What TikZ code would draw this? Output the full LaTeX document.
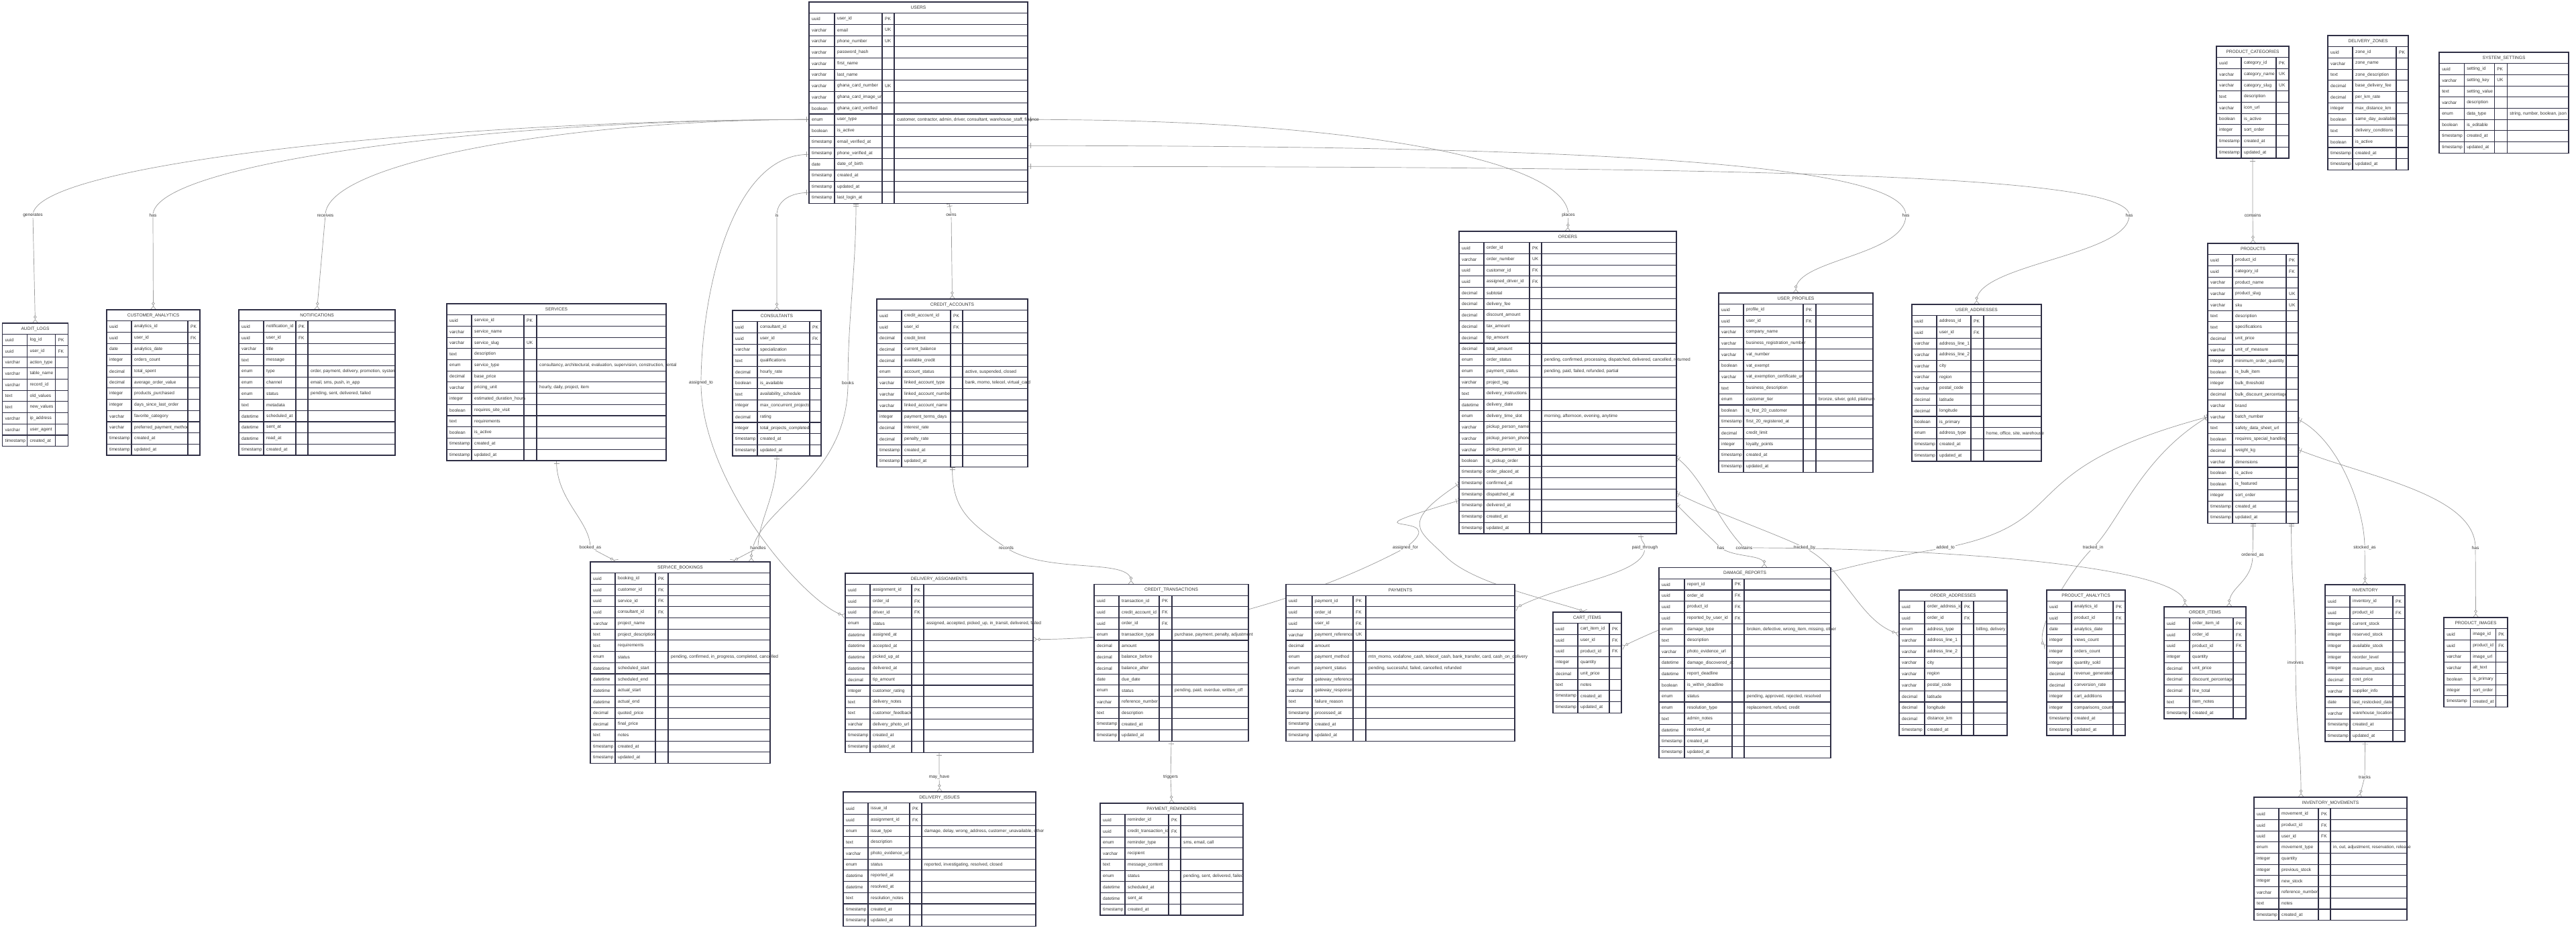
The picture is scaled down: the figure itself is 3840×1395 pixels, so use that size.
\documentclass[tikz,border=0pt]{standalone}
\usepackage{fontspec}
\setmainfont{Liberation Sans}
\usepackage{underscore}
\usetikzlibrary{arrows.meta,backgrounds}
\definecolor{erline}{HTML}{2E2E44}
\definecolor{ertext}{HTML}{333333}
\definecolor{relline}{HTML}{9A9A9A}
\newcommand{\erfont}{\fontsize{6.6}{7.5}\selectfont}
\newcommand{\erh}{16.7}
\newcount\errow
% one attribute row: type, name, key, comment
\newcommand{\erattr}[4]{%
  \pgfmathsetmacro\ert{\ery+(\the\errow+1)*\erh}%
  \pgfmathsetmacro\erxb{\erx+\erwa}%
  \pgfmathsetmacro\erxc{\erxb+\erwb}%
  \pgfmathsetmacro\erxd{\erxc+\erwc}%
  \draw[cellbox] (\erx,\ert) rectangle ++(\erwa,\erh);
  \draw[cellbox] (\erxb,\ert) rectangle ++(\erwb,\erh);
  \draw[cellbox] (\erxc,\ert) rectangle ++(\erwc,\erh);
  \ifdim\erwd pt>0pt \draw[cellbox] (\erxd,\ert) rectangle ++(\erwd,\erh);\fi
  \node[celltext] at (\erx+4,\ert+\erh/2) {#1};
  \node[celltext] at (\erxb+4,\ert+\erh/2) {#2};
  \node[celltext] at (\erxc+4,\ert+\erh/2) {#3};
  \node[celltext] at (\erxd+4,\ert+\erh/2) {#4};
  \global\advance\errow by 1
}
% table: name, x, y, column widths (4), title, rows
\newcommand{\ertable}[9]{%
  \def\erx{#2}\def\ery{#3}\def\erwa{#4}\def\erwb{#5}\def\erwc{#6}\def\erwd{#7}%
  \global\errow=0
  \pgfmathsetmacro\erw{#4+#5+#6+#7}%
  \draw[cellbox] (#2,#3) rectangle ++(\erw,\erh);
  \node[headtext] at (#2+\erw/2,#3+\erh/2) {#8};
  #9%
  \pgfmathsetmacro\erht{(\the\errow+1)*\erh}%
  \node[tablebox,minimum width=\erw,minimum height=\erht,anchor=north west] (#1) at (#2,#3) {};
}

\begin{document}
\begin{tikzpicture}[x=1pt,y=-1pt,font=\erfont,
  cellbox/.style={draw=erline,line width=1.1pt,fill=white},
  celltext/.style={anchor=west,inner sep=0pt,text=ertext},
  headtext/.style={inner sep=0pt,text=ertext},
  tablebox/.style={draw=erline,line width=1.4pt,inner sep=0pt,outer sep=0pt},
  rel/.style={draw=relline,line width=0.7pt},
  onemany/.style={rel,arrows={{Bar[width=8pt]Bar[width=8pt,sep=3pt]}-{Circle[open,length=4.5pt,width=4.5pt,sep=1pt,fill=white]Straight Barb[reversed,length=5pt,width=8pt]}}},
  lbl/.style={fill=white,inner sep=1pt,text=ertext}]
\useasboundingbox (0,0) rectangle (3840,1395);

% rank 0
\ertable{users}{1206}{3}{38}{71}{18}{199}{USERS}{%
  \erattr{uuid}{user_id}{PK}{}
  \erattr{varchar}{email}{UK}{}
  \erattr{varchar}{phone_number}{UK}{}
  \erattr{varchar}{password_hash}{}{}
  \erattr{varchar}{first_name}{}{}
  \erattr{varchar}{last_name}{}{}
  \erattr{varchar}{ghana_card_number}{UK}{}
  \erattr{varchar}{ghana_card_image_url}{}{}
  \erattr{boolean}{ghana_card_verified}{}{}
  \erattr{enum}{user_type}{}{customer, contractor, admin, driver, consultant, warehouse_staff, finance}
  \erattr{boolean}{is_active}{}{}
  \erattr{timestamp}{email_verified_at}{}{}
  \erattr{timestamp}{phone_verified_at}{}{}
  \erattr{date}{date_of_birth}{}{}
  \erattr{timestamp}{created_at}{}{}
  \erattr{timestamp}{updated_at}{}{}
  \erattr{timestamp}{last_login_at}{}{}}
\ertable{prodcats}{3304}{69}{37}{52}{19}{0}{PRODUCT_CATEGORIES}{%
  \erattr{uuid}{category_id}{PK}{}
  \erattr{varchar}{category_name}{UK}{}
  \erattr{varchar}{category_slug}{UK}{}
  \erattr{text}{description}{}{}
  \erattr{varchar}{icon_url}{}{}
  \erattr{boolean}{is_active}{}{}
  \erattr{integer}{sort_order}{}{}
  \erattr{timestamp}{created_at}{}{}
  \erattr{timestamp}{updated_at}{}{}}
\ertable{zones}{3470}{53}{37}{65}{18}{0}{DELIVERY_ZONES}{%
  \erattr{uuid}{zone_id}{PK}{}
  \erattr{varchar}{zone_name}{}{}
  \erattr{text}{zone_description}{}{}
  \erattr{decimal}{base_delivery_fee}{}{}
  \erattr{decimal}{per_km_rate}{}{}
  \erattr{integer}{max_distance_km}{}{}
  \erattr{boolean}{same_day_available}{}{}
  \erattr{text}{delivery_conditions}{}{}
  \erattr{boolean}{is_active}{}{}
  \erattr{timestamp}{created_at}{}{}
  \erattr{timestamp}{updated_at}{}{}}
\ertable{settings}{3636}{78}{37}{45}{19}{92}{SYSTEM_SETTINGS}{%
  \erattr{uuid}{setting_id}{PK}{}
  \erattr{varchar}{setting_key}{UK}{}
  \erattr{text}{setting_value}{}{}
  \erattr{varchar}{description}{}{}
  \erattr{enum}{data_type}{}{string, number, boolean, json}
  \erattr{boolean}{is_editable}{}{}
  \erattr{timestamp}{created_at}{}{}
  \erattr{timestamp}{updated_at}{}{}}

% rank 1
\ertable{auditlogs}{3.5}{482}{37}{42}{19}{0}{AUDIT_LOGS}{%
  \erattr{uuid}{log_id}{PK}{}
  \erattr{uuid}{user_id}{FK}{}
  \erattr{varchar}{action_type}{}{}
  \erattr{varchar}{table_name}{}{}
  \erattr{varchar}{record_id}{}{}
  \erattr{text}{old_values}{}{}
  \erattr{text}{new_values}{}{}
  \erattr{varchar}{ip_address}{}{}
  \erattr{varchar}{user_agent}{}{}
  \erattr{timestamp}{created_at}{}{}}
\ertable{custanalytics}{159}{462}{37}{84}{18}{0}{CUSTOMER_ANALYTICS}{%
  \erattr{uuid}{analytics_id}{PK}{}
  \erattr{uuid}{user_id}{FK}{}
  \erattr{date}{analytics_date}{}{}
  \erattr{integer}{orders_count}{}{}
  \erattr{decimal}{total_spent}{}{}
  \erattr{decimal}{average_order_value}{}{}
  \erattr{integer}{products_purchased}{}{}
  \erattr{integer}{days_since_last_order}{}{}
  \erattr{varchar}{favorite_category}{}{}
  \erattr{varchar}{preferred_payment_method}{}{}
  \erattr{timestamp}{created_at}{}{}
  \erattr{timestamp}{updated_at}{}{}}
\ertable{notifications}{356}{462}{37}{48}{18}{130}{NOTIFICATIONS}{%
  \erattr{uuid}{notification_id}{PK}{}
  \erattr{uuid}{user_id}{FK}{}
  \erattr{varchar}{title}{}{}
  \erattr{text}{message}{}{}
  \erattr{enum}{type}{}{order, payment, delivery, promotion, system}
  \erattr{enum}{channel}{}{email, sms, push, in_app}
  \erattr{enum}{status}{}{pending, sent, delivered, failed}
  \erattr{text}{metadata}{}{}
  \erattr{datetime}{scheduled_at}{}{}
  \erattr{datetime}{sent_at}{}{}
  \erattr{datetime}{read_at}{}{}
  \erattr{timestamp}{created_at}{}{}}
\ertable{services}{666}{453}{37}{78}{19}{193}{SERVICES}{%
  \erattr{uuid}{service_id}{PK}{}
  \erattr{varchar}{service_name}{}{}
  \erattr{varchar}{service_slug}{UK}{}
  \erattr{text}{description}{}{}
  \erattr{enum}{service_type}{}{consultancy, architectural, evaluation, supervision, construction, rental}
  \erattr{decimal}{base_price}{}{}
  \erattr{varchar}{pricing_unit}{}{hourly, daily, project, item}
  \erattr{integer}{estimated_duration_hours}{}{}
  \erattr{boolean}{requires_site_visit}{}{}
  \erattr{text}{requirements}{}{}
  \erattr{boolean}{is_active}{}{}
  \erattr{timestamp}{created_at}{}{}
  \erattr{timestamp}{updated_at}{}{}}
\ertable{consultants}{1092}{463}{37}{78}{17}{0}{CONSULTANTS}{%
  \erattr{uuid}{consultant_id}{PK}{}
  \erattr{uuid}{user_id}{FK}{}
  \erattr{varchar}{specialization}{}{}
  \erattr{text}{qualifications}{}{}
  \erattr{decimal}{hourly_rate}{}{}
  \erattr{boolean}{is_available}{}{}
  \erattr{text}{availability_schedule}{}{}
  \erattr{integer}{max_concurrent_projects}{}{}
  \erattr{decimal}{rating}{}{}
  \erattr{integer}{total_projects_completed}{}{}
  \erattr{timestamp}{created_at}{}{}
  \erattr{timestamp}{updated_at}{}{}}
\ertable{creditaccounts}{1307}{446}{37}{73}{18}{97}{CREDIT_ACCOUNTS}{%
  \erattr{uuid}{credit_account_id}{PK}{}
  \erattr{uuid}{user_id}{FK}{}
  \erattr{decimal}{credit_limit}{}{}
  \erattr{decimal}{current_balance}{}{}
  \erattr{decimal}{available_credit}{}{}
  \erattr{enum}{account_status}{}{active, suspended, closed}
  \erattr{varchar}{linked_account_type}{}{bank, momo, telecel, virtual_card}
  \erattr{varchar}{linked_account_number}{}{}
  \erattr{varchar}{linked_account_name}{}{}
  \erattr{integer}{payment_terms_days}{}{}
  \erattr{decimal}{interest_rate}{}{}
  \erattr{decimal}{penalty_rate}{}{}
  \erattr{timestamp}{created_at}{}{}
  \erattr{timestamp}{updated_at}{}{}}
\ertable{orders}{2175}{345}{37}{68}{18}{201}{ORDERS}{%
  \erattr{uuid}{order_id}{PK}{}
  \erattr{varchar}{order_number}{UK}{}
  \erattr{uuid}{customer_id}{FK}{}
  \erattr{uuid}{assigned_driver_id}{FK}{}
  \erattr{decimal}{subtotal}{}{}
  \erattr{decimal}{delivery_fee}{}{}
  \erattr{decimal}{discount_amount}{}{}
  \erattr{decimal}{tax_amount}{}{}
  \erattr{decimal}{tip_amount}{}{}
  \erattr{decimal}{total_amount}{}{}
  \erattr{enum}{order_status}{}{pending, confirmed, processing, dispatched, delivered, cancelled, returned}
  \erattr{enum}{payment_status}{}{pending, paid, failed, refunded, partial}
  \erattr{varchar}{project_tag}{}{}
  \erattr{text}{delivery_instructions}{}{}
  \erattr{datetime}{delivery_date}{}{}
  \erattr{enum}{delivery_time_slot}{}{morning, afternoon, evening, anytime}
  \erattr{varchar}{pickup_person_name}{}{}
  \erattr{varchar}{pickup_person_phone}{}{}
  \erattr{varchar}{pickup_person_id}{}{}
  \erattr{boolean}{is_pickup_order}{}{}
  \erattr{timestamp}{order_placed_at}{}{}
  \erattr{timestamp}{confirmed_at}{}{}
  \erattr{timestamp}{dispatched_at}{}{}
  \erattr{timestamp}{delivered_at}{}{}
  \erattr{timestamp}{created_at}{}{}
  \erattr{timestamp}{updated_at}{}{}}
\ertable{userprofiles}{2562}{437}{37}{89}{19}{85}{USER_PROFILES}{%
  \erattr{uuid}{profile_id}{PK}{}
  \erattr{uuid}{user_id}{FK}{}
  \erattr{varchar}{company_name}{}{}
  \erattr{varchar}{business_registration_number}{}{}
  \erattr{varchar}{vat_number}{}{}
  \erattr{boolean}{vat_exempt}{}{}
  \erattr{varchar}{vat_exemption_certificate_url}{}{}
  \erattr{text}{business_description}{}{}
  \erattr{enum}{customer_tier}{}{bronze, silver, gold, platinum}
  \erattr{boolean}{is_first_20_customer}{}{}
  \erattr{timestamp}{first_20_registered_at}{}{}
  \erattr{decimal}{credit_limit}{}{}
  \erattr{integer}{loyalty_points}{}{}
  \erattr{timestamp}{created_at}{}{}
  \erattr{timestamp}{updated_at}{}{}}
\ertable{useraddresses}{2850}{454}{37}{51}{19}{86}{USER_ADDRESSES}{%
  \erattr{uuid}{address_id}{PK}{}
  \erattr{uuid}{user_id}{FK}{}
  \erattr{varchar}{address_line_1}{}{}
  \erattr{varchar}{address_line_2}{}{}
  \erattr{varchar}{city}{}{}
  \erattr{varchar}{region}{}{}
  \erattr{varchar}{postal_code}{}{}
  \erattr{decimal}{latitude}{}{}
  \erattr{decimal}{longitude}{}{}
  \erattr{boolean}{is_primary}{}{}
  \erattr{enum}{address_type}{}{home, office, site, warehouse}
  \erattr{timestamp}{created_at}{}{}
  \erattr{timestamp}{updated_at}{}{}}
\ertable{products}{3291}{363}{37}{80}{18}{0}{PRODUCTS}{%
  \erattr{uuid}{product_id}{PK}{}
  \erattr{uuid}{category_id}{FK}{}
  \erattr{varchar}{product_name}{}{}
  \erattr{varchar}{product_slug}{UK}{}
  \erattr{varchar}{sku}{UK}{}
  \erattr{text}{description}{}{}
  \erattr{text}{specifications}{}{}
  \erattr{decimal}{unit_price}{}{}
  \erattr{varchar}{unit_of_measure}{}{}
  \erattr{integer}{minimum_order_quantity}{}{}
  \erattr{boolean}{is_bulk_item}{}{}
  \erattr{integer}{bulk_threshold}{}{}
  \erattr{decimal}{bulk_discount_percentage}{}{}
  \erattr{varchar}{brand}{}{}
  \erattr{varchar}{batch_number}{}{}
  \erattr{text}{safety_data_sheet_url}{}{}
  \erattr{boolean}{requires_special_handling}{}{}
  \erattr{decimal}{weight_kg}{}{}
  \erattr{varchar}{dimensions}{}{}
  \erattr{boolean}{is_active}{}{}
  \erattr{boolean}{is_featured}{}{}
  \erattr{integer}{sort_order}{}{}
  \erattr{timestamp}{created_at}{}{}
  \erattr{timestamp}{updated_at}{}{}}

% rank 2
\ertable{bookings}{880}{838}{37}{60}{19}{152}{SERVICE_BOOKINGS}{%
  \erattr{uuid}{booking_id}{PK}{}
  \erattr{uuid}{customer_id}{FK}{}
  \erattr{uuid}{service_id}{FK}{}
  \erattr{uuid}{consultant_id}{FK}{}
  \erattr{varchar}{project_name}{}{}
  \erattr{text}{project_description}{}{}
  \erattr{text}{requirements}{}{}
  \erattr{enum}{status}{}{pending, confirmed, in_progress, completed, cancelled}
  \erattr{datetime}{scheduled_start}{}{}
  \erattr{datetime}{scheduled_end}{}{}
  \erattr{datetime}{actual_start}{}{}
  \erattr{datetime}{actual_end}{}{}
  \erattr{decimal}{quoted_price}{}{}
  \erattr{decimal}{final_price}{}{}
  \erattr{text}{notes}{}{}
  \erattr{timestamp}{created_at}{}{}
  \erattr{timestamp}{updated_at}{}{}}
\ertable{assignments}{1260}{855}{37}{62}{18}{163}{DELIVERY_ASSIGNMENTS}{%
  \erattr{uuid}{assignment_id}{PK}{}
  \erattr{uuid}{order_id}{FK}{}
  \erattr{uuid}{driver_id}{FK}{}
  \erattr{enum}{status}{}{assigned, accepted, picked_up, in_transit, delivered, failed}
  \erattr{datetime}{assigned_at}{}{}
  \erattr{datetime}{accepted_at}{}{}
  \erattr{datetime}{picked_up_at}{}{}
  \erattr{datetime}{delivered_at}{}{}
  \erattr{decimal}{tip_amount}{}{}
  \erattr{integer}{customer_rating}{}{}
  \erattr{text}{delivery_notes}{}{}
  \erattr{text}{customer_feedback}{}{}
  \erattr{varchar}{delivery_photo_url}{}{}
  \erattr{timestamp}{created_at}{}{}
  \erattr{timestamp}{updated_at}{}{}}
\ertable{credittrans}{1631}{871.5}{37}{60}{19}{114}{CREDIT_TRANSACTIONS}{%
  \erattr{uuid}{transaction_id}{PK}{}
  \erattr{uuid}{credit_account_id}{FK}{}
  \erattr{uuid}{order_id}{FK}{}
  \erattr{enum}{transaction_type}{}{purchase, payment, penalty, adjustment}
  \erattr{decimal}{amount}{}{}
  \erattr{decimal}{balance_before}{}{}
  \erattr{decimal}{balance_after}{}{}
  \erattr{date}{due_date}{}{}
  \erattr{enum}{status}{}{pending, paid, overdue, written_off}
  \erattr{varchar}{reference_number}{}{}
  \erattr{text}{description}{}{}
  \erattr{timestamp}{created_at}{}{}
  \erattr{timestamp}{updated_at}{}{}}
\ertable{payments}{1917}{871.5}{39}{61}{19}{222}{PAYMENTS}{%
  \erattr{uuid}{payment_id}{PK}{}
  \erattr{uuid}{order_id}{FK}{}
  \erattr{uuid}{user_id}{FK}{}
  \erattr{varchar}{payment_reference}{UK}{}
  \erattr{decimal}{amount}{}{}
  \erattr{enum}{payment_method}{}{mtn_momo, vodafone_cash, telecel_cash, bank_transfer, card, cash_on_delivery}
  \erattr{enum}{payment_status}{}{pending, successful, failed, cancelled, refunded}
  \erattr{varchar}{gateway_reference}{}{}
  \erattr{varchar}{gateway_response}{}{}
  \erattr{text}{failure_reason}{}{}
  \erattr{timestamp}{processed_at}{}{}
  \erattr{timestamp}{created_at}{}{}
  \erattr{timestamp}{updated_at}{}{}}
\ertable{cartitems}{2315}{913}{37}{47}{18}{0}{CART_ITEMS}{%
  \erattr{uuid}{cart_item_id}{PK}{}
  \erattr{uuid}{user_id}{FK}{}
  \erattr{uuid}{product_id}{FK}{}
  \erattr{integer}{quantity}{}{}
  \erattr{decimal}{unit_price}{}{}
  \erattr{text}{notes}{}{}
  \erattr{timestamp}{created_at}{}{}
  \erattr{timestamp}{updated_at}{}{}}
\ertable{damagereports}{2473}{846.6}{38}{71}{18}{129}{DAMAGE_REPORTS}{%
  \erattr{uuid}{report_id}{PK}{}
  \erattr{uuid}{order_id}{FK}{}
  \erattr{uuid}{product_id}{FK}{}
  \erattr{uuid}{reported_by_user_id}{FK}{}
  \erattr{enum}{damage_type}{}{broken, defective, wrong_item, missing, other}
  \erattr{text}{description}{}{}
  \erattr{varchar}{photo_evidence_url}{}{}
  \erattr{datetime}{damage_discovered_at}{}{}
  \erattr{datetime}{report_deadline}{}{}
  \erattr{boolean}{is_within_deadline}{}{}
  \erattr{enum}{status}{}{pending, approved, rejected, resolved}
  \erattr{enum}{resolution_type}{}{replacement, refund, credit}
  \erattr{text}{admin_notes}{}{}
  \erattr{datetime}{resolved_at}{}{}
  \erattr{timestamp}{created_at}{}{}
  \erattr{timestamp}{updated_at}{}{}}
\ertable{orderaddresses}{2831}{880}{38}{55}{18}{50}{ORDER_ADDRESSES}{%
  \erattr{uuid}{order_address_id}{PK}{}
  \erattr{uuid}{order_id}{FK}{}
  \erattr{enum}{address_type}{}{billing, delivery}
  \erattr{varchar}{address_line_1}{}{}
  \erattr{varchar}{address_line_2}{}{}
  \erattr{varchar}{city}{}{}
  \erattr{varchar}{region}{}{}
  \erattr{varchar}{postal_code}{}{}
  \erattr{decimal}{latitude}{}{}
  \erattr{decimal}{longitude}{}{}
  \erattr{decimal}{distance_km}{}{}
  \erattr{timestamp}{created_at}{}{}}
\ertable{prodanalytics}{3051}{880}{37}{62}{18}{0}{PRODUCT_ANALYTICS}{%
  \erattr{uuid}{analytics_id}{PK}{}
  \erattr{uuid}{product_id}{FK}{}
  \erattr{date}{analytics_date}{}{}
  \erattr{integer}{views_count}{}{}
  \erattr{integer}{orders_count}{}{}
  \erattr{integer}{quantity_sold}{}{}
  \erattr{decimal}{revenue_generated}{}{}
  \erattr{decimal}{conversion_rate}{}{}
  \erattr{integer}{cart_additions}{}{}
  \erattr{integer}{comparisons_count}{}{}
  \erattr{timestamp}{created_at}{}{}
  \erattr{timestamp}{updated_at}{}{}}
\ertable{orderitems}{3226}{905}{38}{65}{19}{0}{ORDER_ITEMS}{%
  \erattr{uuid}{order_item_id}{PK}{}
  \erattr{uuid}{order_id}{FK}{}
  \erattr{uuid}{product_id}{FK}{}
  \erattr{integer}{quantity}{}{}
  \erattr{decimal}{unit_price}{}{}
  \erattr{decimal}{discount_percentage}{}{}
  \erattr{decimal}{line_total}{}{}
  \erattr{text}{item_notes}{}{}
  \erattr{timestamp}{created_at}{}{}}
\ertable{inventory}{3466}{872}{37}{64}{18}{0}{INVENTORY}{%
  \erattr{uuid}{inventory_id}{PK}{}
  \erattr{uuid}{product_id}{FK}{}
  \erattr{integer}{current_stock}{}{}
  \erattr{integer}{reserved_stock}{}{}
  \erattr{integer}{available_stock}{}{}
  \erattr{integer}{reorder_level}{}{}
  \erattr{integer}{maximum_stock}{}{}
  \erattr{decimal}{cost_price}{}{}
  \erattr{varchar}{supplier_info}{}{}
  \erattr{date}{last_restocked_date}{}{}
  \erattr{varchar}{warehouse_location}{}{}
  \erattr{timestamp}{created_at}{}{}
  \erattr{timestamp}{updated_at}{}{}}
\ertable{prodimages}{3643}{921}{39}{38}{18}{0}{PRODUCT_IMAGES}{%
  \erattr{uuid}{image_id}{PK}{}
  \erattr{uuid}{product_id}{FK}{}
  \erattr{varchar}{image_url}{}{}
  \erattr{varchar}{alt_text}{}{}
  \erattr{boolean}{is_primary}{}{}
  \erattr{integer}{sort_order}{}{}
  \erattr{timestamp}{created_at}{}{}}

% rank 3
\ertable{issues}{1257}{1181}{37}{62}{18}{170}{DELIVERY_ISSUES}{%
  \erattr{uuid}{issue_id}{PK}{}
  \erattr{uuid}{assignment_id}{FK}{}
  \erattr{enum}{issue_type}{}{damage, delay, wrong_address, customer_unavailable, other}
  \erattr{text}{description}{}{}
  \erattr{varchar}{photo_evidence_url}{}{}
  \erattr{enum}{status}{}{reported, investigating, resolved, closed}
  \erattr{datetime}{reported_at}{}{}
  \erattr{datetime}{resolved_at}{}{}
  \erattr{text}{resolution_notes}{}{}
  \erattr{timestamp}{created_at}{}{}
  \erattr{timestamp}{updated_at}{}{}}
\ertable{reminders}{1640}{1198}{37}{65}{18}{93}{PAYMENT_REMINDERS}{%
  \erattr{uuid}{reminder_id}{PK}{}
  \erattr{uuid}{credit_transaction_id}{FK}{}
  \erattr{enum}{reminder_type}{}{sms, email, call}
  \erattr{varchar}{recipient}{}{}
  \erattr{text}{message_content}{}{}
  \erattr{enum}{status}{}{pending, sent, delivered, failed}
  \erattr{datetime}{scheduled_at}{}{}
  \erattr{datetime}{sent_at}{}{}
  \erattr{timestamp}{created_at}{}{}}
\ertable{movements}{3360}{1189}{37}{59}{18}{114}{INVENTORY_MOVEMENTS}{%
  \erattr{uuid}{movement_id}{PK}{}
  \erattr{uuid}{product_id}{FK}{}
  \erattr{uuid}{user_id}{FK}{}
  \erattr{enum}{movement_type}{}{in, out, adjustment, reservation, release}
  \erattr{integer}{quantity}{}{}
  \erattr{integer}{previous_stock}{}{}
  \erattr{integer}{new_stock}{}{}
  \erattr{varchar}{reference_number}{}{}
  \erattr{text}{notes}{}{}
  \erattr{timestamp}{created_at}{}{}}

% relationships
\begin{scope}[on background layer]
\fill[white] (0,0) rectangle (3840,1395);
\draw[onemany] ([yshift=-25pt]users.west) .. controls +(-500,0) and +(0,-80) .. (49,321) node[lbl]{generates} -- (auditlogs.north);
\draw[onemany] ([yshift=-25pt]users.west) .. controls +(-450,0) and +(0,-80) .. (228,321) node[lbl]{has} -- (custanalytics.north);
\draw[onemany] ([yshift=-25pt]users.west) .. controls +(-350,0) and +(0,-80) .. (485,321) node[lbl]{receives} -- (notifications.north);
\draw[onemany] ([yshift=-134pt]users.west) .. controls +(-30,0) and +(0,-20) .. (1158,321) node[lbl]{is} -- (consultants.north);
\draw[onemany] ([xshift=46pt]users.south) -- (1418,321) node[lbl]{owns} -- (creditaccounts.north);
\draw[onemany] ([yshift=-25pt]users.east) .. controls +(500,0) and +(0,-80) .. (2338,321) node[lbl]{places} -- (orders.north);
\draw[onemany] ([yshift=-64pt]users.east) .. controls +(800,0) and +(0,-80) .. (2841,321) node[lbl]{has} .. controls +(0,60) and +(0,-50) .. (userprofiles.north);
\draw[onemany] ([yshift=-95pt]users.east) .. controls +(1100,0) and +(0,-60) .. (3174,321) node[lbl]{has} .. controls +(0,60) and +(0,-60) .. (useraddresses.north);
\draw[onemany] (prodcats.south) -- (3358,321) node[lbl]{contains} -- (products.north);
\draw[onemany] ([yshift=-77pt]users.west) .. controls +(-120,0) and +(0,-120) .. (1045,571) node[lbl]{assigned_to} .. controls +(0,150) and +(-60,-20) .. ([yshift=70pt]assignments.west);
\draw[onemany] ([xshift=-93pt]users.south) .. controls +(0,100) and +(0,-100) .. (1264,571) node[lbl]{books} .. controls +(0,150) and +(0,-80) .. ([xshift=106pt]bookings.north);
\draw[onemany] (services.south) .. controls +(0,60) and +(0,-40) .. (880,817) node[lbl]{booked_as} -- ([xshift=-94pt]bookings.north);
\draw[onemany] (consultants.south) .. controls +(0,60) and +(0,-40) .. (1130,817) node[lbl]{handles} -- ([xshift=76pt]bookings.north);
\draw[onemany] (creditaccounts.south) .. controls +(0,60) and +(-60,-40) .. (1500,817) node[lbl]{records} .. controls +(60,40) and +(0,-40) .. ([xshift=-60pt]credittrans.north);
\draw[onemany] (credittrans.south) -- (1745,1159) node[lbl]{triggers} -- (reminders.north);
\draw[onemany] (assignments.south) -- (1400,1159) node[lbl]{may_have} -- (issues.north);
\draw[onemany] ([xshift=109pt]orders.south) .. controls +(0,15) and +(0,-10) .. (2452,817) node[lbl]{paid_through} .. controls +(0,40) and +(80,-40) .. ([yshift=81pt]payments.east);
\draw[onemany] ([yshift=-176pt]orders.west) .. controls +(-200,60) and +(80,-60) .. (2095,817) node[lbl]{assigned_for} .. controls +(-150,80) and +(200,0) .. ([yshift=35pt]assignments.east);
\draw[onemany] ([yshift=-151pt]orders.west) .. controls +(-90,60) and +(-40,-40) .. (2155,830) .. controls +(40,40) and +(-60,-20) .. ([xshift=-1pt]cartitems.north);
\draw[onemany] ([yshift=-182pt]orders.east) .. controls +(40,40) and +(-20,-20) .. (2565,817) node[lbl]{has} .. controls +(20,15) and +(0,-20) .. ([xshift=29pt]damagereports.north);
\draw[onemany] ([yshift=-165pt]orders.east) .. controls +(60,30) and +(-40,-20) .. (2690,817) node[lbl]{tracked_by} .. controls +(60,30) and +(-60,-20) .. ([yshift=43pt]orderaddresses.west);
\draw[onemany] ([yshift=-112pt]orders.east) .. controls +(40,30) and +(-40,-40) .. (2600,817) node[lbl]{contains} .. controls +(300,0) and +(0,-60) .. ([xshift=-30pt]orderitems.north);
\draw[onemany] (products.south) .. controls +(0,30) and +(0,-10) .. (3358,828) node[lbl]{ordered_as} .. controls +(0,40) and +(0,-30) .. ([xshift=36pt]orderitems.north);
\draw[onemany] ([xshift=57pt]products.south) .. controls +(0,100) and +(0,-100) .. (3422,988) node[lbl]{involves} .. controls +(0,100) and +(0,-80) .. ([xshift=-44pt]movements.north);
\draw[onemany] (inventory.south) -- (3525,1159) node[lbl]{tracks} -- ([xshift=43pt]movements.north);
\draw[onemany] ([yshift=-54pt]products.east) .. controls +(60,30) and +(0,-60) .. (3525,817) node[lbl]{stocked_as} -- (inventory.north);
\draw[onemany] ([yshift=-99pt]products.east) .. controls +(100,40) and +(0,-80) .. (3690,817) node[lbl]{has} -- (prodimages.north);
\draw[onemany] ([yshift=-50pt]products.west) .. controls +(-100,60) and +(40,-40) .. (3120,817) node[lbl]{tracked_in} .. controls +(-40,40) and +(-20,-20) .. ([yshift=23pt]prodanalytics.west);
\draw[onemany] ([yshift=-50pt]products.west) .. controls +(-300,80) and +(200,-40) .. (2900,817) node[lbl]{added_to} .. controls +(-250,40) and +(40,-20) .. ([yshift=23pt]cartitems.east);
\end{scope}
\end{tikzpicture}
\end{document}
